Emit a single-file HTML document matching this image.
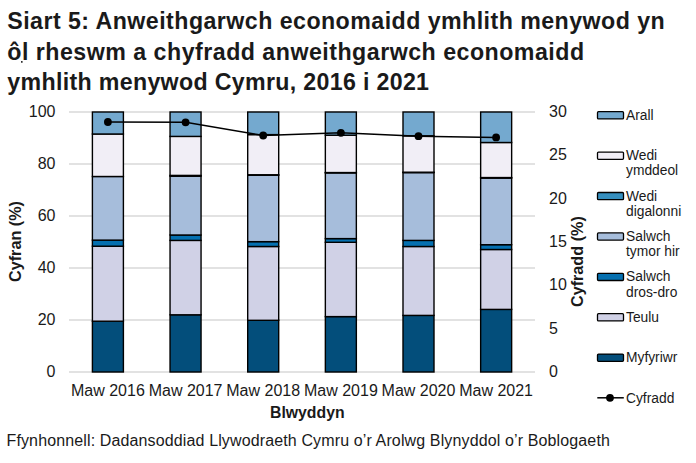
<!DOCTYPE html>
<html><head><meta charset="utf-8"><style>
html,body{margin:0;padding:0;background:#fff;width:696px;height:463px;overflow:hidden}
svg{display:block}
text{font-family:"Liberation Sans",sans-serif;fill:#1a1a1a}
.tt{font-size:23.2px;font-weight:bold}
.ax{font-size:16px}
.axb{font-size:16.2px;font-weight:bold}
.lg{font-size:13.8px}
.ft{font-size:16px;letter-spacing:0.13px}
</style></head><body>
<svg width="696" height="463" viewBox="0 0 696 463">
<line x1="69" y1="112" x2="535" y2="112" stroke="#d9d9d9" stroke-width="1.3"/>
<line x1="69" y1="164" x2="535" y2="164" stroke="#d9d9d9" stroke-width="1.3"/>
<line x1="69" y1="216" x2="535" y2="216" stroke="#d9d9d9" stroke-width="1.3"/>
<line x1="69" y1="268" x2="535" y2="268" stroke="#d9d9d9" stroke-width="1.3"/>
<line x1="69" y1="320" x2="535" y2="320" stroke="#d9d9d9" stroke-width="1.3"/>
<line x1="69" y1="372" x2="535" y2="372" stroke="#d9d9d9" stroke-width="1.3"/>
<rect x="92.4" y="321.2" width="31.0" height="50.80" fill="#034e7b" stroke="#000" stroke-width="1.4"/>
<rect x="92.4" y="246.2" width="31.0" height="75.00" fill="#d0d1e6" stroke="#000" stroke-width="1.4"/>
<rect x="92.4" y="240.1" width="31.0" height="6.10" fill="#0570b0" stroke="#000" stroke-width="1.4"/>
<rect x="92.4" y="176.5" width="31.0" height="63.60" fill="#a6bddb" stroke="#000" stroke-width="1.4"/>
<rect x="92.4" y="134.0" width="31.0" height="42.50" fill="#f1eef6" stroke="#000" stroke-width="1.4"/>
<rect x="92.4" y="112.0" width="31.0" height="22.00" fill="#74a9cf" stroke="#000" stroke-width="1.4"/>
<rect x="170.05" y="314.8" width="31.0" height="57.20" fill="#034e7b" stroke="#000" stroke-width="1.4"/>
<rect x="170.05" y="240.4" width="31.0" height="74.40" fill="#d0d1e6" stroke="#000" stroke-width="1.4"/>
<rect x="170.05" y="235.0" width="31.0" height="5.40" fill="#0570b0" stroke="#000" stroke-width="1.4"/>
<rect x="170.05" y="176.2" width="31.0" height="58.80" fill="#a6bddb" stroke="#000" stroke-width="1.4"/>
<rect x="170.05" y="175.4" width="31.0" height="0.80" fill="#3690c0" stroke="#000" stroke-width="1.4"/>
<rect x="170.05" y="136.4" width="31.0" height="39.00" fill="#f1eef6" stroke="#000" stroke-width="1.4"/>
<rect x="170.05" y="112.0" width="31.0" height="24.40" fill="#74a9cf" stroke="#000" stroke-width="1.4"/>
<rect x="247.7" y="320.3" width="31.0" height="51.70" fill="#034e7b" stroke="#000" stroke-width="1.4"/>
<rect x="247.7" y="246.5" width="31.0" height="73.80" fill="#d0d1e6" stroke="#000" stroke-width="1.4"/>
<rect x="247.7" y="241.65" width="31.0" height="4.85" fill="#0570b0" stroke="#000" stroke-width="1.4"/>
<rect x="247.7" y="175.25" width="31.0" height="66.40" fill="#a6bddb" stroke="#000" stroke-width="1.4"/>
<rect x="247.7" y="174.75" width="31.0" height="0.50" fill="#3690c0" stroke="#000" stroke-width="1.4"/>
<rect x="247.7" y="134.6" width="31.0" height="40.15" fill="#f1eef6" stroke="#000" stroke-width="1.4"/>
<rect x="247.7" y="112.0" width="31.0" height="22.60" fill="#74a9cf" stroke="#000" stroke-width="1.4"/>
<rect x="325.35" y="316.6" width="31.0" height="55.40" fill="#034e7b" stroke="#000" stroke-width="1.4"/>
<rect x="325.35" y="242.3" width="31.0" height="74.30" fill="#d0d1e6" stroke="#000" stroke-width="1.4"/>
<rect x="325.35" y="238.6" width="31.0" height="3.70" fill="#0570b0" stroke="#000" stroke-width="1.4"/>
<rect x="325.35" y="172.85" width="31.0" height="65.75" fill="#a6bddb" stroke="#000" stroke-width="1.4"/>
<rect x="325.35" y="172.55" width="31.0" height="0.30" fill="#3690c0" stroke="#000" stroke-width="1.4"/>
<rect x="325.35" y="135.2" width="31.0" height="37.35" fill="#f1eef6" stroke="#000" stroke-width="1.4"/>
<rect x="325.35" y="112.0" width="31.0" height="23.20" fill="#74a9cf" stroke="#000" stroke-width="1.4"/>
<rect x="403.0" y="315.4" width="31.0" height="56.60" fill="#034e7b" stroke="#000" stroke-width="1.4"/>
<rect x="403.0" y="246.5" width="31.0" height="68.90" fill="#d0d1e6" stroke="#000" stroke-width="1.4"/>
<rect x="403.0" y="240.4" width="31.0" height="6.10" fill="#0570b0" stroke="#000" stroke-width="1.4"/>
<rect x="403.0" y="172.6" width="31.0" height="67.80" fill="#a6bddb" stroke="#000" stroke-width="1.4"/>
<rect x="403.0" y="172.2" width="31.0" height="0.40" fill="#3690c0" stroke="#000" stroke-width="1.4"/>
<rect x="403.0" y="135.8" width="31.0" height="36.40" fill="#f1eef6" stroke="#000" stroke-width="1.4"/>
<rect x="403.0" y="112.0" width="31.0" height="23.80" fill="#74a9cf" stroke="#000" stroke-width="1.4"/>
<rect x="480.65" y="309.4" width="31.0" height="62.60" fill="#034e7b" stroke="#000" stroke-width="1.4"/>
<rect x="480.65" y="249.5" width="31.0" height="59.90" fill="#d0d1e6" stroke="#000" stroke-width="1.4"/>
<rect x="480.65" y="244.7" width="31.0" height="4.80" fill="#0570b0" stroke="#000" stroke-width="1.4"/>
<rect x="480.65" y="178.05" width="31.0" height="66.65" fill="#a6bddb" stroke="#000" stroke-width="1.4"/>
<rect x="480.65" y="177.55" width="31.0" height="0.50" fill="#3690c0" stroke="#000" stroke-width="1.4"/>
<rect x="480.65" y="142.5" width="31.0" height="35.05" fill="#f1eef6" stroke="#000" stroke-width="1.4"/>
<rect x="480.65" y="112.0" width="31.0" height="30.50" fill="#74a9cf" stroke="#000" stroke-width="1.4"/>
<polyline points="107.9,122.0 185.6,122.3 263.2,135.5 340.9,132.8 418.5,136.2 496.1,137.4" fill="none" stroke="#000" stroke-width="1.5"/>
<circle cx="107.9" cy="122.0" r="3.9" fill="#000"/>
<circle cx="185.6" cy="122.3" r="3.9" fill="#000"/>
<circle cx="263.2" cy="135.5" r="3.9" fill="#000"/>
<circle cx="340.9" cy="132.8" r="3.9" fill="#000"/>
<circle cx="418.5" cy="136.2" r="3.9" fill="#000"/>
<circle cx="496.1" cy="137.4" r="3.9" fill="#000"/>
<text x="55.5" y="116.9" text-anchor="end" class="ax">100</text>
<text x="55.5" y="168.9" text-anchor="end" class="ax">80</text>
<text x="55.5" y="220.9" text-anchor="end" class="ax">60</text>
<text x="55.5" y="272.9" text-anchor="end" class="ax">40</text>
<text x="55.5" y="324.9" text-anchor="end" class="ax">20</text>
<text x="55.5" y="376.9" text-anchor="end" class="ax">0</text>
<text x="549" y="116.9" class="ax">30</text>
<text x="549" y="160.2" class="ax">25</text>
<text x="549" y="203.6" class="ax">20</text>
<text x="549" y="246.9" class="ax">15</text>
<text x="549" y="290.2" class="ax">10</text>
<text x="549" y="333.6" class="ax">5</text>
<text x="549" y="376.9" class="ax">0</text>
<text x="107.9" y="396" text-anchor="middle" class="ax">Maw 2016</text>
<text x="185.6" y="396" text-anchor="middle" class="ax">Maw 2017</text>
<text x="263.2" y="396" text-anchor="middle" class="ax">Maw 2018</text>
<text x="340.9" y="396" text-anchor="middle" class="ax">Maw 2019</text>
<text x="418.5" y="396" text-anchor="middle" class="ax">Maw 2020</text>
<text x="496.1" y="396" text-anchor="middle" class="ax">Maw 2021</text>
<text x="307.3" y="418" text-anchor="middle" class="axb" style="font-size:15.8px">Blwyddyn</text>
<text transform="translate(20.5,241.5) rotate(-90)" text-anchor="middle" class="axb">Cyfran (%)</text>
<text transform="translate(582.5,261.6) rotate(-90)" text-anchor="middle" class="axb">Cyfradd (%)</text>
<rect x="597.5" y="111.7" width="26" height="7.2" rx="1" fill="#74a9cf" stroke="#000" stroke-width="1.3"/>
<text x="626" y="119.8" class="lg">Arall</text>
<rect x="597.5" y="152.1" width="26" height="7.2" rx="1" fill="#f1eef6" stroke="#000" stroke-width="1.3"/>
<text x="626" y="160.2" class="lg">Wedi</text>
<text x="626" y="175.4" class="lg">ymddeol</text>
<rect x="597.5" y="192.5" width="26" height="7.2" rx="1" fill="#3690c0" stroke="#000" stroke-width="1.3"/>
<text x="626" y="200.6" class="lg">Wedi</text>
<text x="626" y="215.8" class="lg">digalonni</text>
<rect x="597.5" y="232.9" width="26" height="7.2" rx="1" fill="#a6bddb" stroke="#000" stroke-width="1.3"/>
<text x="626" y="241.0" class="lg">Salwch</text>
<text x="626" y="256.2" class="lg">tymor hir</text>
<rect x="597.5" y="273.3" width="26" height="7.2" rx="1" fill="#0570b0" stroke="#000" stroke-width="1.3"/>
<text x="626" y="281.4" class="lg">Salwch</text>
<text x="626" y="296.6" class="lg">dros-dro</text>
<rect x="597.5" y="313.7" width="26" height="7.2" rx="1" fill="#d0d1e6" stroke="#000" stroke-width="1.3"/>
<text x="626" y="321.8" class="lg">Teulu</text>
<rect x="597.5" y="354.1" width="26" height="7.2" rx="1" fill="#034e7b" stroke="#000" stroke-width="1.3"/>
<text x="626" y="362.2" class="lg">Myfyriwr</text>
<line x1="597.3" y1="397.8" x2="623.8" y2="397.8" stroke="#000" stroke-width="1.5"/>
<circle cx="610" cy="397.8" r="3.9" fill="#000"/>
<text x="626" y="402.6" class="lg">Cyfradd</text>
<text x="7.3" y="28.9" class="tt" textLength="657.4" lengthAdjust="spacing">Siart 5: Anweithgarwch economaidd ymhlith menywod yn</text>
<text x="7.3" y="59.9" class="tt" textLength="576.8" lengthAdjust="spacing">ôl rheswm a chyfradd anweithgarwch economaidd</text>
<rect x="21" y="61.1" width="1.6" height="1.6" fill="#1a1a1a"/>
<text x="7.3" y="89.6" class="tt" textLength="421.7" lengthAdjust="spacing">ymhlith menywod Cymru, 2016 i 2021</text>
<text x="6.5" y="446" class="ft">Ffynhonnell: Dadansoddiad Llywodraeth Cymru o’r Arolwg Blynyddol o’r Boblogaeth</text>
</svg>
</body></html>
